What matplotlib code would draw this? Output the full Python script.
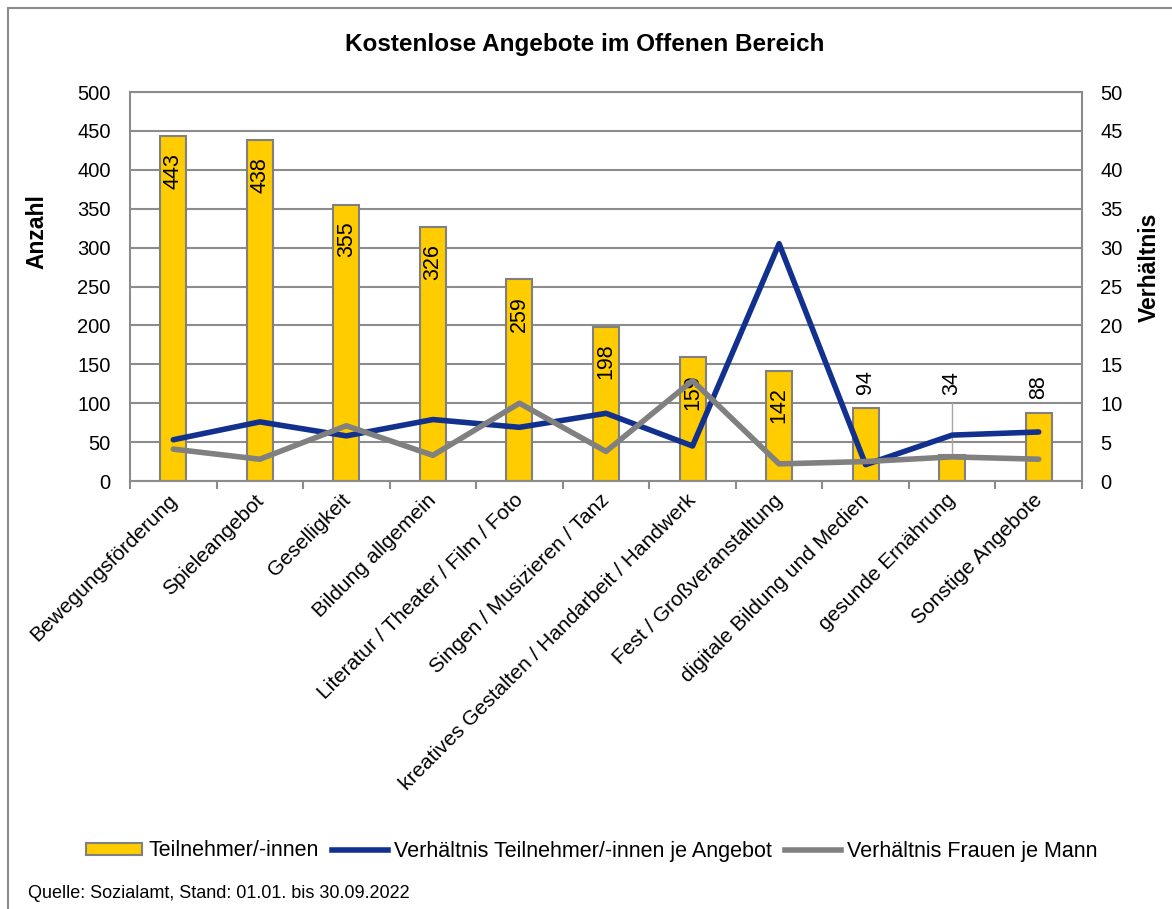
import numpy as np
import matplotlib
matplotlib.use('Agg')
import matplotlib.pyplot as plt
import matplotlib.transforms as mtransforms
from matplotlib.patches import Rectangle
from matplotlib.lines import Line2D

plt.rcParams['font.family'] = ['Liberation Sans', 'DejaVu Sans']

# data
categories = ['Bewegungsförderung', 'Spieleangebot', 'Geselligkeit', 'Bildung allgemein',
              'Literatur / Theater / Film / Foto', 'Singen / Musizieren / Tanz',
              'kreatives Gestalten / Handarbeit / Handwerk', 'Fest / Großveranstaltung',
              'digitale Bildung und Medien', 'gesunde Ernährung', 'Sonstige Angebote']
teilnehmer = [443, 438, 355, 326, 259, 198, 159, 142, 94, 34, 88]
je_angebot = [5.3, 7.6, 5.8, 7.9, 6.9, 8.7, 4.5, 30.5, 2.1, 5.9, 6.3]
frauen_je_mann = [4.1, 2.8, 7.1, 3.3, 10.0, 3.8, 12.9, 2.2, 2.5, 3.1, 2.8]

gold = '#FFCC00'
navy = '#12308E'
grey = '#808080'
frame = '#8C8C8C'

fig = plt.figure(figsize=(11.72, 9.09), dpi=100)
ax = fig.add_axes([130 / 1172, 1 - 481 / 909, (1082 - 130) / 1172, (481 - 92) / 909])
x = np.arange(len(categories))

bars = ax.bar(x, teilnehmer, width=0.3, color=gold, edgecolor=grey, linewidth=1.5, zorder=2)
ax.set_ylim(0, 500)
ax.set_xlim(-0.5, len(categories) - 0.5)
ax.set_yticks(np.arange(0, 501, 50))
ax.grid(axis='y', color=frame, linewidth=1.5, zorder=0)
ax.set_axisbelow(True)
for s in ax.spines.values():
    s.set_color(frame)
    s.set_linewidth(1.5)

ax.set_xticks(x)
ax.set_xticklabels(categories, rotation=45, ha='right', rotation_mode='anchor', fontsize=15)
ax.set_xticks(np.arange(-0.5, len(categories)), minor=True)
ax.tick_params(axis='x', which='major', length=0, pad=7)
ax.tick_params(axis='x', which='minor', length=6, width=1.5, color=frame, direction='out')
ax.tick_params(axis='y', length=0, pad=14, labelsize=14.5)
shift = mtransforms.ScaledTranslation(-6 / 100, 0, fig.dpi_scale_trans)
for lab in ax.get_xticklabels():
    lab.set_transform(lab.get_transform() + shift)

# bar value labels
for i, v in enumerate(teilnehmer):
    if v > 120:
        ax.annotate(str(v), (x[i], v), xytext=(0, -12), textcoords='offset points',
                    rotation=90, ha='center', va='top', fontsize=15.5, zorder=3)
    elif v > 50:
        ax.annotate(str(v), (x[i], v), xytext=(0, 10), textcoords='offset points',
                    rotation=90, ha='center', va='bottom', fontsize=15.5, zorder=3)
    else:
        ax.plot([x[i], x[i]], [v, 100], color='#A6A6A6', linewidth=1, zorder=1)
        ax.annotate(str(v), (x[i], 100), xytext=(0, 6), textcoords='offset points',
                    rotation=90, ha='center', va='bottom', fontsize=15.5, zorder=3)

ax2 = ax.twinx()
ax2.set_ylim(0, 50)
ax2.set_yticks(np.arange(0, 51, 5))
ax2.tick_params(axis='y', length=0, pad=13, labelsize=14.5)
for s in ax2.spines.values():
    s.set_visible(False)
ax2.plot(x, je_angebot, color=navy, linewidth=4, solid_capstyle='round', zorder=3)
ax2.plot(x, frauen_je_mann, color=grey, linewidth=4, solid_capstyle='round', zorder=3)

fig.text(0.4985, 1 - 44 / 909, 'Kostenlose Angebote im Offenen Bereich', ha='center', va='center',
         fontsize=17.5, fontweight='bold')
fig.text(37 / 1172, 1 - 232 / 909, 'Anzahl', rotation=90, ha='center', va='center',
         fontsize=16.5, fontweight='bold')
fig.text(1149 / 1172, 1 - 267 / 909, 'Verhältnis', rotation=90, ha='center', va='center',
         fontsize=16.5, fontweight='bold')

handles = [Rectangle((0, 0), 1, 1, facecolor=gold, edgecolor=grey, linewidth=1.5),
           Line2D([], [], color=navy, linewidth=4),
           Line2D([], [], color=grey, linewidth=4)]
labels = ['Teilnehmer/-innen', 'Verhältnis Teilnehmer/-innen je Angebot', 'Verhältnis Frauen je Mann']
fig.legend(handles, labels, loc='center', bbox_to_anchor=(592 / 1172, 1 - 851 / 909), ncol=3,
           frameon=False, fontsize=15.5, handlelength=2.6, handleheight=0.45, handletextpad=0.3,
           columnspacing=0.6)

fig.text(28 / 1172, 1 - 893 / 909, 'Quelle: Sozialamt, Stand: 01.01. bis 30.09.2022',
         ha='left', va='center', fontsize=13)

# outer chart frame (only top and left edge visible)
fig.patches.append(Rectangle((8 / 1172, -0.1), 1.2, 1.1 - 8 / 909, transform=fig.transFigure,
                             fill=False, edgecolor=frame, linewidth=1.5))

fig.savefig('out.png', dpi=100)
